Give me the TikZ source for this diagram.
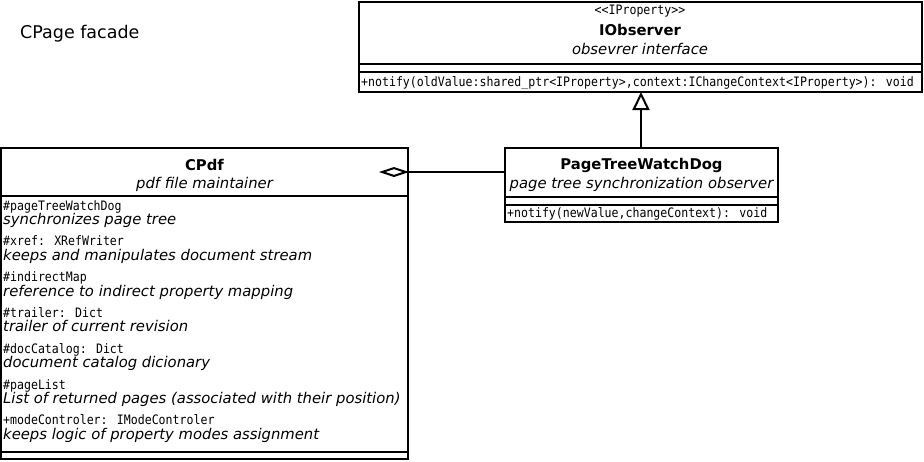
\documentclass[tikz,border=0pt]{standalone}
\usepackage{fontspec}
\setmainfont{DejaVu Sans}
\newfontfamily\monof[FakeStretch=0.89]{DejaVu Sans Mono}
\usetikzlibrary{arrows.meta}
\begin{document}
\begin{tikzpicture}[x=1pt,y=-1pt,
  umlbox/.style={draw, line width=2pt, inner sep=0pt, outer sep=0pt, anchor=north west},
  sepline/.style={line width=2pt},
  conn/.style={line width=2pt},
  monot/.style={font=\monof\fontsize{13}{15}\selectfont, inner sep=0pt, anchor=base west},
  italt/.style={font=\itshape\fontsize{14.8}{17}\selectfont, inner sep=0pt, anchor=base},
  italw/.style={font=\itshape\fontsize{14.8}{17}\selectfont, inner sep=0pt, anchor=base west},
  boldt/.style={font=\bfseries\fontsize{14.8}{17}\selectfont, inner sep=0pt, anchor=base},
  stereo/.style={font=\monof\fontsize{13}{15}\selectfont, inner sep=0pt, anchor=base}]
\useasboundingbox (0,0) rectangle (924,461);
\fill[white] (0,0) rectangle (924,461);

\node[font=\fontsize{17.5}{20}\selectfont, inner sep=0pt, anchor=base west] (title) at (20,38) {CPage facade};

% IObserver
\node[umlbox, minimum width=563pt, minimum height=90pt] (iobs) at (359,2) {};
\draw[sepline] (359,64) -- (922,64);
\draw[sepline] (359,72) -- (922,72);
\node[stereo] (iobsst) at (640,14) {<{}<IProperty>{}>};
\node[boldt] (iobsname) at (640,35) {IObserver};
\node[italt] (iobsdesc) at (640,54) {obsevrer interface};
\node[monot] (iobsop) at (361,86) {+notify(oldValue:shared\_ptr<IProperty>,context:IChangeContext<IProperty>): void};

% PageTreeWatchDog
\node[umlbox, minimum width=273pt, minimum height=74pt] (ptwd) at (505,148) {};
\draw[sepline] (505,197) -- (778,197);
\draw[sepline] (505,205) -- (778,205);
\node[boldt] (ptwdname) at (641.5,169) {PageTreeWatchDog};
\node[italt] (ptwddesc) at (641.5,188) {page tree synchronization observer};
\node[monot] (ptwdop) at (507,217) {+notify(newValue,changeContext): void};

% CPdf
\node[umlbox, minimum width=407pt, minimum height=311pt] (cpdf) at (1,148) {};
\draw[sepline] (1,196) -- (408,196);
\draw[sepline] (1,452) -- (408,452);
\node[boldt] (cpdfname) at (204.5,170) {CPdf};
\node[italt] (cpdfdesc) at (204.5,188) {pdf file maintainer};

\node[monot] (a1) at (3,210) {\#pageTreeWatchDog};
\node[italw] (d1) at (3,224.5) {synchronizes page tree};
\node[monot] (a2) at (3,245.8) {\#xref: XRefWriter};
\node[italw] (d2) at (3,260.3) {keeps and manipulates document stream};
\node[monot] (a3) at (3,281.6) {\#indirectMap};
\node[italw] (d3) at (3,296.1) {reference to indirect property mapping};
\node[monot] (a4) at (3,317.4) {\#trailer: Dict};
\node[italw] (d4) at (3,331.9) {trailer of current revision};
\node[monot] (a5) at (3,353.2) {\#docCatalog: Dict};
\node[italw] (d5) at (3,367.7) {document catalog dicionary};
\node[monot] (a6) at (3,389) {\#pageList};
\node[italw] (d6) at (3,403.5) {List of returned pages (associated with their position)};
\node[monot] (a7) at (3,424.8) {+modeControler: IModeControler};
\node[italw] (d7) at (3,439.3) {keeps logic of property modes assignment};

% connectors
\draw[conn, -{Triangle[open, length=18pt, width=17pt, line width=2pt]}] (641,148) -- (641,92);
\coordinate (agg) at (379,172);
\draw[conn, -{Diamond[open, length=30pt, width=10pt, line width=2pt]}] (agg -| ptwd.west) -- (agg);
\end{tikzpicture}
\end{document}
